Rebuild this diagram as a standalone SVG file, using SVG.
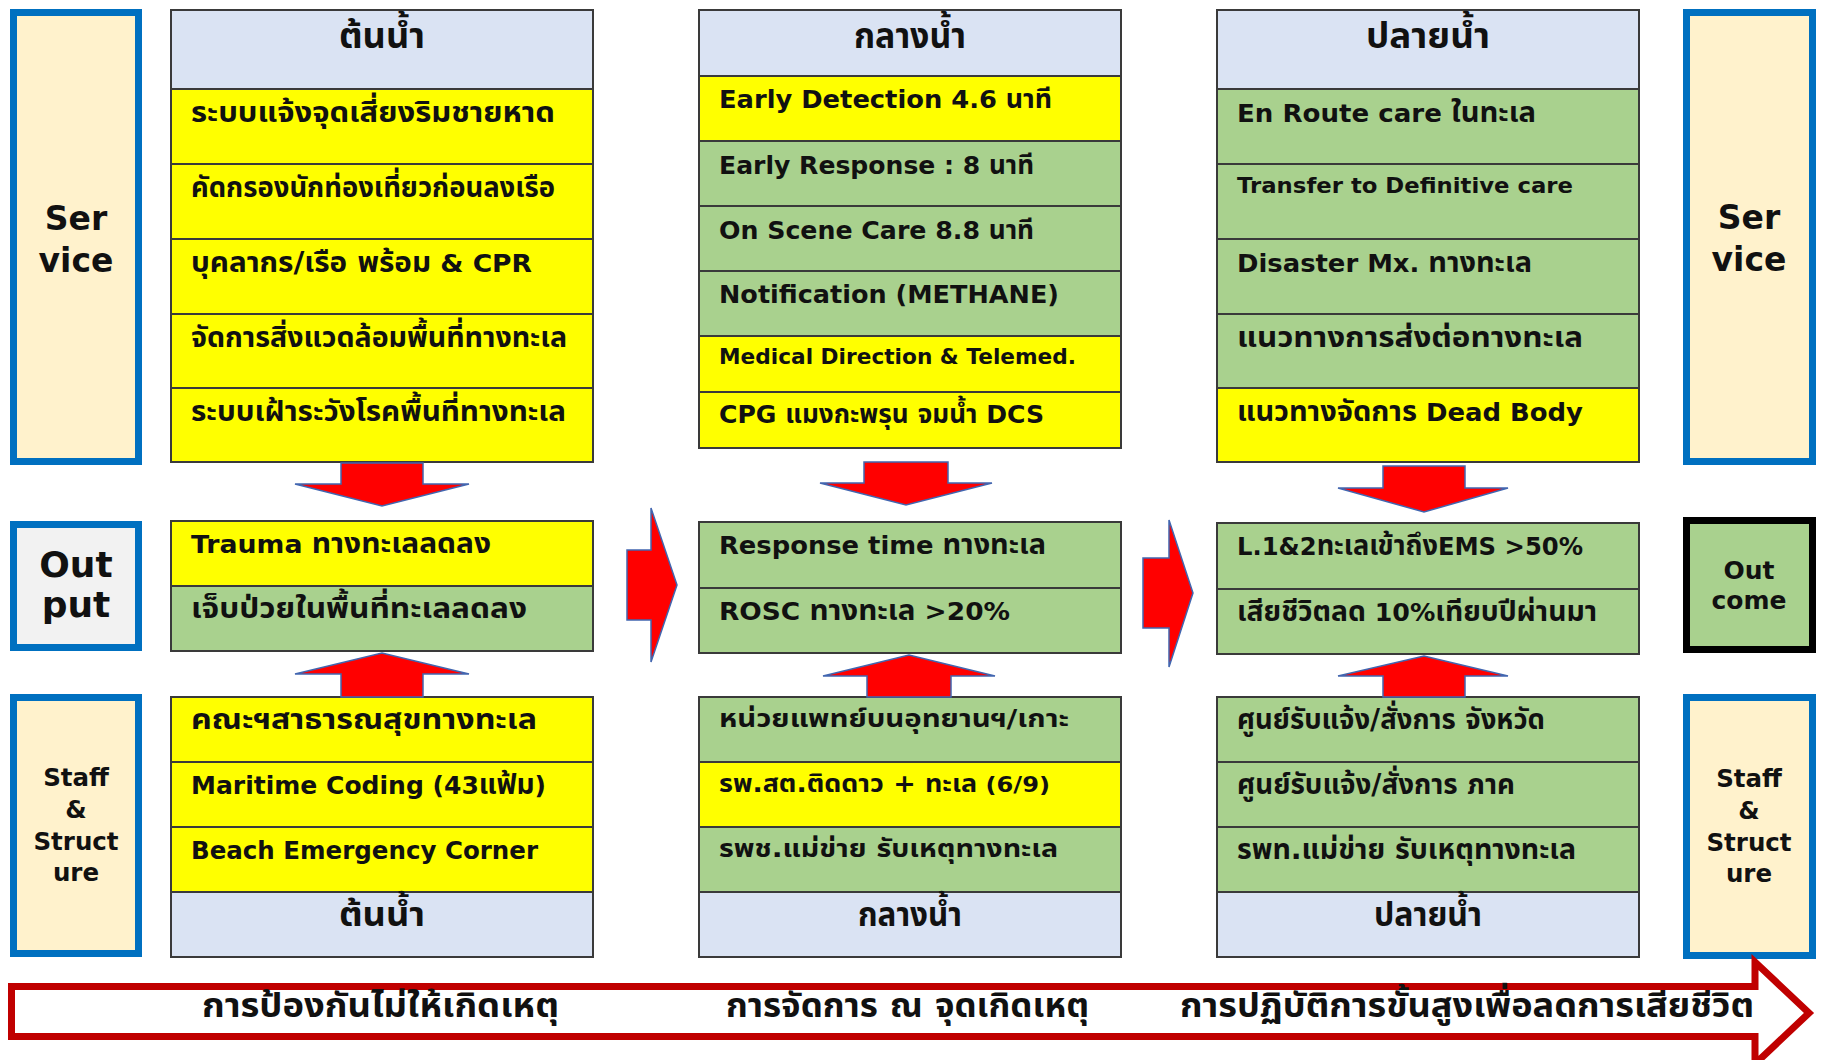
<svg xmlns="http://www.w3.org/2000/svg" width="1837" height="1060" viewBox="0 0 1837 1060">
<style>
.bx{stroke:#3a3a3a;stroke-width:2}
.hd{fill:#DAE3F3}
.yl{fill:#FFFF00}
.gr{fill:#A9D18E}
text{font-family:'DejaVu Sans','Noto Sans Thai','Noto Sans',sans-serif;font-weight:bold;fill:#111}
.t{font-size:25.5px}
.tt{font-size:28.5px}
.s{font-size:22px}
.st{font-size:24.5px}
.h{font-size:36px;text-anchor:middle}
.hb{font-size:34px;text-anchor:middle}
.lb{text-anchor:middle}
.side{fill:#FFF2CC;stroke:#0070C0;stroke-width:7}
.arr{fill:#FF0000;stroke:#4166B0;stroke-width:1.5;stroke-linejoin:miter}
</style>
<rect width="1837" height="1060" fill="#fff"/>

<!-- side labels -->
<g id="service-left">
<rect class="side" x="13.5" y="12.5" width="125" height="449"/>
<text class="lb" x="76" y="230" font-size="33">Ser</text>
<text class="lb" x="76" y="272" font-size="33">vice</text>
</g>
<g id="output-left">
<rect class="side" x="13.5" y="524.5" width="125" height="123" style="fill:#F2F2F2"/>
<text class="lb" x="76" y="577" font-size="36">Out</text>
<text class="lb" x="76" y="617" font-size="36">put</text>
</g>
<g id="staff-left">
<rect class="side" x="13.5" y="697.5" width="125" height="256"/>
<text class="lb" x="76" y="786" font-size="24.5">Staff</text>
<text class="lb" x="76" y="818" font-size="24.5">&amp;</text>
<text class="lb" x="76" y="850" font-size="24.5">Struct</text>
<text class="lb" x="76" y="881" font-size="24.5">ure</text>
</g>
<g id="service-right">
<rect class="side" x="1686.5" y="12.5" width="126" height="449"/>
<text class="lb" x="1749" y="229" font-size="33">Ser</text>
<text class="lb" x="1749" y="271" font-size="33">vice</text>
</g>
<g id="outcome-right">
<rect x="1686.5" y="520.5" width="126" height="129" fill="#A9D18E" stroke="#000" stroke-width="7"/>
<text class="lb" x="1749" y="579" font-size="25">Out</text>
<text class="lb" x="1749" y="609" font-size="25">come</text>
</g>
<g id="staff-right">
<rect class="side" x="1686.5" y="697.5" width="126" height="258"/>
<text class="lb" x="1749" y="787" font-size="24.5">Staff</text>
<text class="lb" x="1749" y="819" font-size="24.5">&amp;</text>
<text class="lb" x="1749" y="851" font-size="24.5">Struct</text>
<text class="lb" x="1749" y="882" font-size="24.5">ure</text>
</g>

<!-- column 1 top -->
<g id="upstream-service">
<rect class="bx hd" x="171" y="10" width="422" height="79"/>
<text class="h" x="382" y="48" textLength="86" lengthAdjust="spacingAndGlyphs">ต้นน้ำ</text>
<rect class="bx yl" x="171" y="89" width="422" height="75"/>
<text class="tt" x="191" y="122" textLength="364" lengthAdjust="spacingAndGlyphs">ระบบแจ้งจุดเสี่ยงริมชายหาด</text>
<rect class="bx yl" x="171" y="164" width="422" height="75"/>
<text class="tt" x="191" y="197" textLength="364" lengthAdjust="spacingAndGlyphs">คัดกรองนักท่องเที่ยวก่อนลงเรือ</text>
<rect class="bx yl" x="171" y="239" width="422" height="75"/>
<text class="t" x="191" y="272" textLength="341" lengthAdjust="spacingAndGlyphs"><tspan font-size="28.5">บุคลากร/เรือ พร้อม</tspan> &amp; CPR</text>
<rect class="bx yl" x="171" y="314" width="422" height="74"/>
<text class="tt" x="191" y="347" textLength="376" lengthAdjust="spacingAndGlyphs">จัดการสิ่งแวดล้อมพื้นที่ทางทะเล</text>
<rect class="bx yl" x="171" y="388" width="422" height="74"/>
<text class="tt" x="191" y="421" textLength="375" lengthAdjust="spacingAndGlyphs">ระบบเฝ้าระวังโรคพื้นที่ทางทะเล</text>
</g>

<!-- column 2 top -->
<g id="midstream-service">
<rect class="bx hd" x="699" y="10" width="422" height="66"/>
<text class="h" x="910" y="48" textLength="112" lengthAdjust="spacingAndGlyphs">กลางน้ำ</text>
<rect class="bx yl" x="699" y="76" width="422" height="65"/>
<text class="t" x="719" y="108" textLength="333" lengthAdjust="spacingAndGlyphs">Early Detection 4.6 <tspan font-size="26.5">นาที</tspan></text>
<rect class="bx gr" x="699" y="141" width="422" height="65"/>
<text class="t" x="719" y="174" textLength="315" lengthAdjust="spacingAndGlyphs">Early Response : 8 <tspan font-size="26.5">นาที</tspan></text>
<rect class="bx gr" x="699" y="206" width="422" height="65"/>
<text class="t" x="719" y="239" textLength="315" lengthAdjust="spacingAndGlyphs">On Scene Care 8.8 <tspan font-size="26.5">นาที</tspan></text>
<rect class="bx gr" x="699" y="271" width="422" height="65"/>
<text class="t" x="719" y="303" textLength="340" lengthAdjust="spacingAndGlyphs">Notification (METHANE)</text>
<rect class="bx yl" x="699" y="336" width="422" height="56"/>
<text class="s" x="719" y="364" textLength="357" lengthAdjust="spacingAndGlyphs">Medical Direction &amp; Telemed.</text>
<rect class="bx yl" x="699" y="392" width="422" height="56"/>
<text class="t" x="719" y="423" textLength="325" lengthAdjust="spacingAndGlyphs">CPG <tspan font-size="26.5">แมงกะพรุน จมน้ำ</tspan> DCS</text>
</g>

<!-- column 3 top -->
<g id="downstream-service">
<rect class="bx hd" x="1217" y="10" width="422" height="79"/>
<text class="h" x="1428" y="48" textLength="124" lengthAdjust="spacingAndGlyphs">ปลายน้ำ</text>
<rect class="bx gr" x="1217" y="89" width="422" height="75"/>
<text class="t" x="1237" y="122" textLength="299" lengthAdjust="spacingAndGlyphs">En Route care <tspan font-size="28.5">ในทะเล</tspan></text>
<rect class="bx gr" x="1217" y="164" width="422" height="75"/>
<text class="s" x="1237" y="193" font-size="22.5" textLength="336" lengthAdjust="spacingAndGlyphs">Transfer to Definitive care</text>
<rect class="bx gr" x="1217" y="239" width="422" height="75"/>
<text class="t" x="1237" y="272" textLength="295" lengthAdjust="spacingAndGlyphs">Disaster Mx. <tspan font-size="28.5">ทางทะเล</tspan></text>
<rect class="bx gr" x="1217" y="314" width="422" height="74"/>
<text class="tt" x="1237" y="347" textLength="346" lengthAdjust="spacingAndGlyphs">แนวทางการส่งต่อทางทะเล</text>
<rect class="bx yl" x="1217" y="388" width="422" height="74"/>
<text class="t" x="1237" y="421" textLength="346" lengthAdjust="spacingAndGlyphs"><tspan font-size="28.5">แนวทางจัดการ</tspan> Dead Body</text>
</g>

<!-- outputs -->
<g id="upstream-output">
<rect class="bx yl" x="171" y="521" width="422" height="65"/>
<text class="t" x="191" y="553" textLength="300" lengthAdjust="spacingAndGlyphs">Trauma <tspan font-size="28.5">ทางทะเลลดลง</tspan></text>
<rect class="bx gr" x="171" y="586" width="422" height="65"/>
<text class="tt" x="191" y="618" textLength="336" lengthAdjust="spacingAndGlyphs">เจ็บป่วยในพื้นที่ทะเลลดลง</text>
</g>
<g id="midstream-output">
<rect class="bx gr" x="699" y="522" width="422" height="66"/>
<text class="t" x="719" y="554" textLength="327" lengthAdjust="spacingAndGlyphs">Response time <tspan font-size="28.5">ทางทะเล</tspan></text>
<rect class="bx gr" x="699" y="588" width="422" height="65"/>
<text class="t" x="719" y="620" textLength="291" lengthAdjust="spacingAndGlyphs">ROSC <tspan font-size="28.5">ทางทะเล</tspan> &gt;20%</text>
</g>
<g id="downstream-output">
<rect class="bx gr" x="1217" y="523" width="422" height="66"/>
<text class="t" x="1237" y="555" textLength="346" lengthAdjust="spacingAndGlyphs">L.1&amp;2<tspan font-size="28.5">ทะเลเข้าถึง</tspan>EMS &gt;50%</text>
<rect class="bx gr" x="1217" y="589" width="422" height="65"/>
<text class="t" x="1237" y="621" textLength="360" lengthAdjust="spacingAndGlyphs"><tspan font-size="28.5">เสียชีวิตลด</tspan> 10%<tspan font-size="28.5">เทียบปีผ่านมา</tspan></text>
</g>

<!-- structure -->
<g id="upstream-structure">
<rect class="bx yl" x="171" y="697" width="422" height="65"/>
<text class="tt" x="191" y="729" textLength="346" lengthAdjust="spacingAndGlyphs">คณะฯสาธารณสุขทางทะเล</text>
<rect class="bx yl" x="171" y="762" width="422" height="65"/>
<text class="t" x="191" y="794" textLength="355" lengthAdjust="spacingAndGlyphs">Maritime Coding (43<tspan font-size="28.5">แฟ้ม</tspan>)</text>
<rect class="bx yl" x="171" y="827" width="422" height="65"/>
<text class="t" x="191" y="859" textLength="347" lengthAdjust="spacingAndGlyphs">Beach Emergency Corner</text>
<rect class="bx hd" x="171" y="892" width="422" height="65"/>
<text class="hb" x="382" y="926" textLength="86" lengthAdjust="spacingAndGlyphs">ต้นน้ำ</text>
</g>
<g id="midstream-structure">
<rect class="bx gr" x="699" y="697" width="422" height="65"/>
<text class="st" x="719" y="727" textLength="350" lengthAdjust="spacingAndGlyphs">หน่วยแพทย์บนอุทยานฯ/เกาะ</text>
<rect class="bx yl" x="699" y="762" width="422" height="65"/>
<text class="s" x="719" y="792" textLength="331" lengthAdjust="spacingAndGlyphs"><tspan font-size="24.5">รพ.สต.ติดดาว + ทะเล</tspan> (6/9)</text>
<rect class="bx gr" x="699" y="827" width="422" height="65"/>
<text class="st" x="719" y="857" textLength="339" lengthAdjust="spacingAndGlyphs">รพช.แม่ข่าย รับเหตุทางทะเล</text>
<rect class="bx hd" x="699" y="892" width="422" height="65"/>
<text class="hb" x="910" y="926" textLength="104" lengthAdjust="spacingAndGlyphs">กลางน้ำ</text>
</g>
<g id="downstream-structure">
<rect class="bx gr" x="1217" y="697" width="422" height="65"/>
<text class="tt" x="1237" y="729" textLength="308" lengthAdjust="spacingAndGlyphs">ศูนย์รับแจ้ง/สั่งการ จังหวัด</text>
<rect class="bx gr" x="1217" y="762" width="422" height="65"/>
<text class="tt" x="1237" y="794" textLength="278" lengthAdjust="spacingAndGlyphs">ศูนย์รับแจ้ง/สั่งการ ภาค</text>
<rect class="bx gr" x="1217" y="827" width="422" height="65"/>
<text class="tt" x="1237" y="859" textLength="339" lengthAdjust="spacingAndGlyphs">รพท.แม่ข่าย รับเหตุทางทะเล</text>
<rect class="bx hd" x="1217" y="892" width="422" height="65"/>
<text class="hb" x="1428" y="926" textLength="108" lengthAdjust="spacingAndGlyphs">ปลายน้ำ</text>
</g>

<!-- connectors -->
<g id="connectors">
<polygon class="arr" points="341,463 423,463 423,484 469,484 382,506 295,484 341,484"/>
<polygon class="arr" points="864,462 948,462 948,483 992,483 906,505 820,483 864,483"/>
<polygon class="arr" points="1383,466 1465,466 1465,488 1508,488 1424,512 1338,488 1383,488"/>
<polygon class="arr" points="341,697 423,697 423,674 469,674 382,653 295,674 341,674"/>
<polygon class="arr" points="867,697 951,697 951,676 995,676 909,655 823,676 867,676"/>
<polygon class="arr" points="1383,697 1465,697 1465,676 1508,676 1424,656 1338,676 1383,676"/>
<polygon class="arr" points="627,550 651,550 651,508 677,585 651,662 651,620 627,620"/>
<polygon class="arr" points="1143,558 1169,558 1169,520 1193,593 1169,667 1169,628 1143,628"/>
</g>

<!-- bottom timeline arrow -->
<g id="timeline">
<path d="M11.5,986.5 L1755,986.5 L1755,962 L1809,1013 L1755,1064 L1755,1036.5 L11.5,1036.5 Z" fill="#fff" stroke="#C00000" stroke-width="7"/>
<text x="202" y="1017" font-size="33" textLength="357" lengthAdjust="spacingAndGlyphs">การป้องกันไม่ให้เกิดเหตุ</text>
<text x="726" y="1017" font-size="33" textLength="363" lengthAdjust="spacingAndGlyphs">การจัดการ ณ จุดเกิดเหตุ</text>
<text x="1180" y="1017" font-size="33" textLength="574" lengthAdjust="spacingAndGlyphs">การปฏิบัติการขั้นสูงเพื่อลดการเสียชีวิต</text>
</g>
</svg>
